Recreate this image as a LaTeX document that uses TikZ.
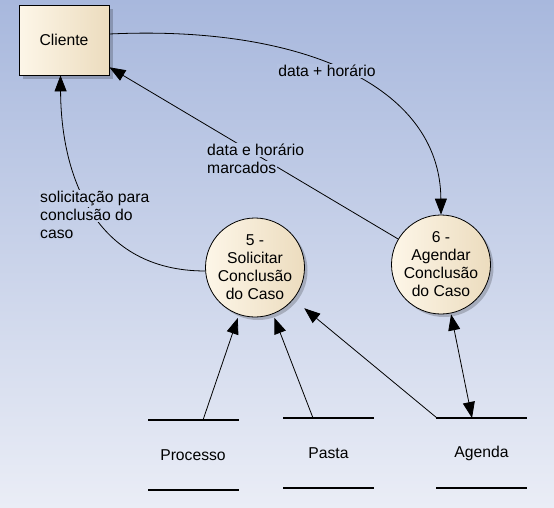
\documentclass[tikz,border=0pt]{standalone}
\usepackage{fontspec}
\setmainfont{Liberation Sans}
\usetikzlibrary{arrows.meta,shadows}
\definecolor{bgtop}{RGB}{168,184,221}
\definecolor{bgbot}{RGB}{234,237,246}
\definecolor{creamL}{RGB}{253,246,232}
\definecolor{creamR}{RGB}{236,220,190}
\definecolor{bgA}{RGB}{179,193,225}
\definecolor{bgB}{RGB}{189,202,230}
\definecolor{bgC}{RGB}{196,207,232}
\newcommand{\lbox}[2]{{\setlength{\fboxsep}{1pt}\colorbox{#1}{#2}}}
\begin{document}
\begin{tikzpicture}[x=1pt,y=-1pt,
  every node/.style={font=\fontsize{15.7}{18}\selectfont, text=black},
  proc/.style={circle, draw=black, line width=0.8pt, minimum size=99pt, inner sep=0pt,
    align=center, left color=creamL, right color=creamR,
    drop shadow={shadow xshift=3pt, shadow yshift=-3pt, fill=black, opacity=0.2}},
  ext/.style={rectangle, draw=black, line width=0.8pt, minimum width=90pt, minimum height=70pt,
    left color=creamL, right color=creamR,
    drop shadow={shadow xshift=4pt, shadow yshift=-4pt, fill=black, opacity=0.2}},
  store/.style={line width=1.8pt},
  tipA/.tip={Triangle[length=16pt,width=12pt]},
  flow/.style={line width=0.8pt, -tipA},
  biflow/.style={line width=0.8pt, tipA-tipA},
  lbl/.style={inner sep=0pt, align=left}
]
\shade[top color=bgtop, bottom color=bgbot] (0,0) rectangle (554,507);
\useasboundingbox (0,0) rectangle (554,507);

% external entity
\node[ext] (cliente) at (64,40) {Cliente};

% processes
\node[proc] (c5) at (255,267.5) {5 -\\Solicitar\\Conclusão\\do Caso};
\node[proc] (c6) at (441,264.5) {6 -\\Agendar\\Conclusão\\do Caso};

% data stores
\coordinate (pr1) at (148,420); \coordinate (pr2) at (239,420);
\coordinate (pr3) at (148,490); \coordinate (pr4) at (239,490);
\coordinate (pa1) at (283,418); \coordinate (pa2) at (374,418);
\coordinate (pa3) at (283,488); \coordinate (pa4) at (374,488);
\coordinate (ag1) at (436,418); \coordinate (ag2) at (527,418);
\coordinate (ag3) at (436,488); \coordinate (ag4) at (527,488);
\draw[store] (pr1) -- (pr2); \draw[store] (pr3) -- (pr4);
\draw[store] (pa1) -- (pa2); \draw[store] (pa3) -- (pa4);
\draw[store] (ag1) -- (ag2); \draw[store] (ag3) -- (ag4);
\node (processo) at (193,455) {Processo};
\node (pasta) at (328.5,453) {Pasta};
\node (agenda) at (481.5,453) {Agenda};

% connector anchors on stores
\coordinate (prA) at (203,420);
\coordinate (paA) at (313,418);
\coordinate (agA) at (437,418);
\coordinate (agB) at (472,418);

% flows
\draw[flow, shorten >=3.5pt] (prA) -- (c5);
\draw[flow, shorten >=4pt] (paA) -- (c5);
\draw[flow, shorten >=14pt] (agA) -- (c5);
\draw[biflow, shorten >=1pt] (agB) -- (c6);
\draw[flow] ([yshift=6pt]cliente.east) .. controls (300,25) and (440,85) .. (c6.north);
\draw[flow] (c6) -- (cliente.-31);
\draw[flow] (c5.184) .. controls (95,271) and (61,176) .. ([xshift=-3.5pt]cliente.south);

% labels
\node[lbl] (l1) at (327,71) {\lbox{bgA}{data + horário}};
\node[lbl, anchor=west] (l2) at (206,159) {\lbox{bgB}{data e horário}\\\lbox{bgB}{marcados}};
\node[lbl, anchor=west] (l3) at (39,215) {\lbox{bgC}{solicitação para}\\\lbox{bgC}{conclusão do}\\\lbox{bgC}{caso}};
\end{tikzpicture}
\end{document}
